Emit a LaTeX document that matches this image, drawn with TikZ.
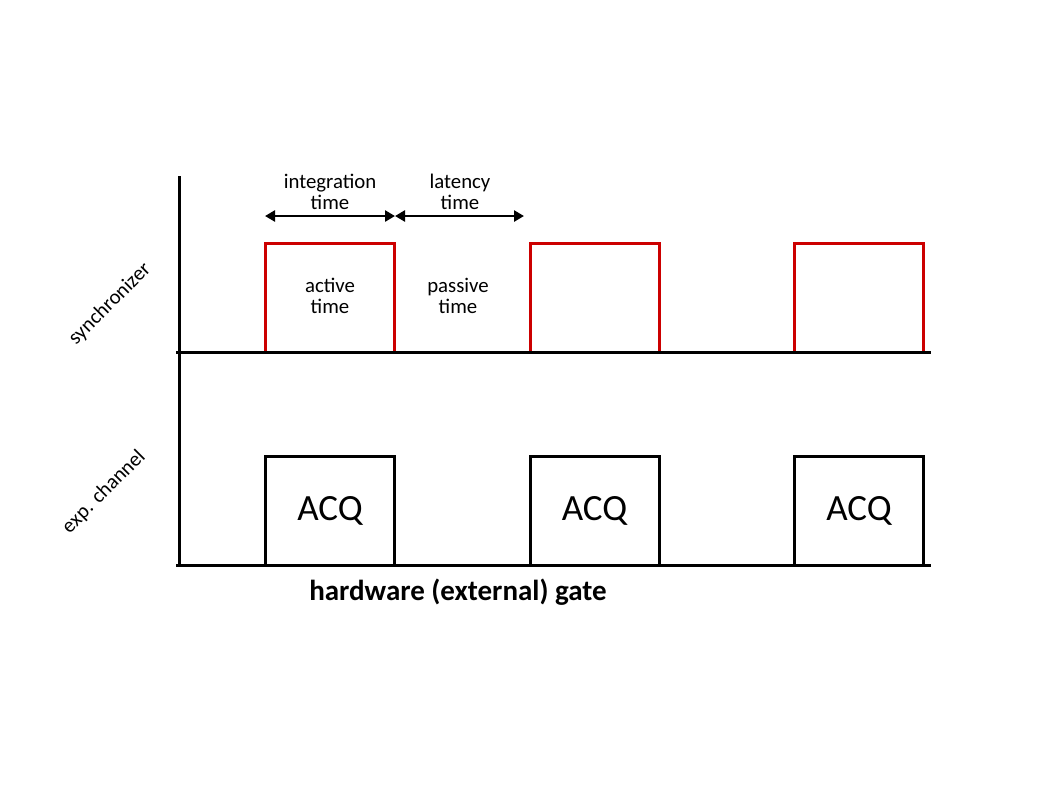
\documentclass[tikz,border=0pt]{standalone}
\usepackage{fontspec}
\setmainfont{Carlito}
\usetikzlibrary{arrows.meta}
\definecolor{sigred}{RGB}{204,0,0}
\begin{document}
\begin{tikzpicture}[x=0.5pt,y=-0.5pt,
  redbox/.style={draw=sigred,line width=1.5pt,minimum width=64.5pt,minimum height=54.5pt,inner sep=0pt},
  acqbox/.style={draw=black,line width=1.5pt,minimum width=64.5pt,minimum height=54.5pt,inner sep=0pt,font=\fontsize{18.5}{20}\selectfont},
  axisline/.style={line width=1.5pt},
  small/.style={font=\fontsize{10.4}{10.5}\selectfont,align=center,inner sep=0pt},
  dimarrow/.style={line width=1.4pt,{Triangle[length=5pt,width=5.5pt]}-{Triangle[length=5pt,width=5.5pt]}},
  side/.style={font=\fontsize{10.4}{12}\selectfont,rotate=45,inner sep=0pt}]
\useasboundingbox (0,0) rectangle (1058,794);
% synchronizer pulses
\node[redbox] (r1) at (330,297.5) {};
\node[redbox] (r2) at (594.5,297.5) {};
\node[redbox] (r3) at (859,297.5) {};
% acquisitions
\node[acqbox] (a1) at (330,510.5) {ACQ};
\node[acqbox] (a2) at (594.5,510.5) {ACQ};
\node[acqbox] (a3) at (859,510.5) {ACQ};
% axes
\coordinate (ytop) at (179,176);
\coordinate (ybot) at (179,565);
\coordinate (l1s) at (176,352);
\coordinate (l1e) at (931,352);
\coordinate (l2s) at (176,565);
\coordinate (l2e) at (931,565);
\draw[axisline] (ytop) -- (ybot);
\draw[axisline] (l1s) -- (l1e);
\draw[axisline] (l2s) -- (l2e);
% dimension arrows
\coordinate (d1) at (265,216);
\coordinate (d2) at (395,216);
\coordinate (d3) at (524,216);
\draw[dimarrow] (d1) -- (d2);
\draw[dimarrow] (d2) -- (d3);
% labels
\node[small] (tint) at (330,192) {integration\\time};
\node[small] (tlat) at (460,192) {latency\\time};
\node[small] (tact) at (330,296) {active\\time};
\node[small] (tpas) at (458,296) {passive\\time};
\node[side] (tsync) at (110,304) {synchronizer};
\node[side] (texp) at (104,492) {exp. channel};
\node[font=\fontsize{14.5}{16}\selectfont\bfseries] (tgate) at (458,592) {hardware (external) gate};
\end{tikzpicture}
\end{document}
